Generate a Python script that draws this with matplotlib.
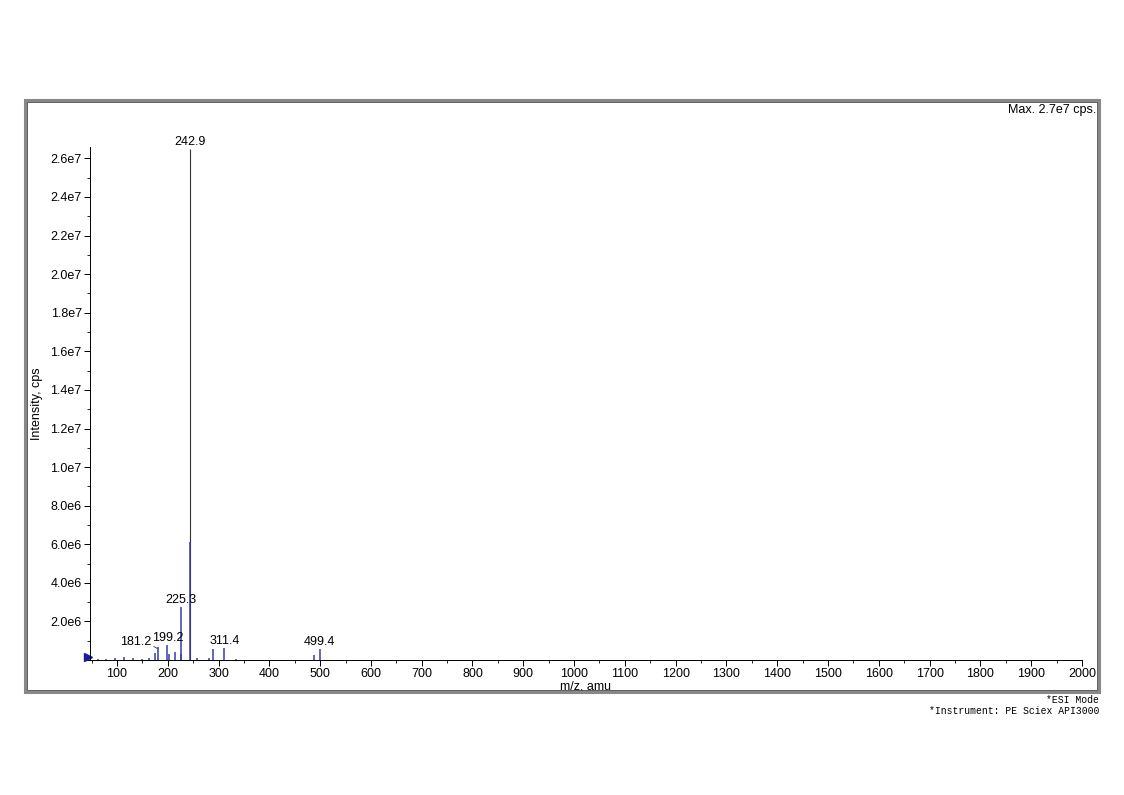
import matplotlib.pyplot as plt
from matplotlib.patches import Rectangle
from matplotlib.ticker import MultipleLocator, FuncFormatter

plt.rcParams['font.family'] = ['Liberation Sans', 'DejaVu Sans']

# peak list (m/z, intensity in cps)
mz = [62.0, 78.0, 96.0, 114.0, 131.0, 150.0, 163.0, 175.0, 181.2, 199.2, 202.0,
      215.0, 225.3, 227.0, 242.9, 244.5, 258.0, 281.0, 290.0, 311.4, 335.0,
      488.0, 499.4]
intensity = [0.05e6, 0.07e6, 0.08e6, 0.15e6, 0.08e6, 0.06e6, 0.1e6, 0.35e6, 0.65e6,
             0.76e6, 0.3e6, 0.41e6, 2.73e6, 0.3e6, 2.65e7, 6.1e6, 0.08e6, 0.1e6,
             0.55e6, 0.64e6, 0.06e6, 0.25e6, 0.59e6]
labelled = [181.2, 199.2, 225.3, 242.9, 311.4, 499.4]
base_peak = 242.9

fig = plt.figure(figsize=(11.24, 7.95), dpi=100)
ax = fig.add_axes([0.0801, 0.1698, 0.8825, 0.6455])

# outer frame around the plot
fig.patches.append(Rectangle((0.0222, 0.129), 0.9555, 0.745, transform=fig.transFigure,
                             fill=False, edgecolor='#888888', linewidth=2.2))
fig.patches.append(Rectangle((0.0240, 0.1315), 0.9520, 0.7400, transform=fig.transFigure,
                             fill=False, edgecolor='#444444', linewidth=0.6))

blue = '#3b3ba8'
for m, i in zip(mz, intensity):
    col = '#333333' if m == base_peak else blue
    lw = 0.8 if m == base_peak else 1.1
    ax.vlines(m, 0, i, color=col, linewidth=lw)

for m, i in zip(mz, intensity):
    if m not in labelled:
        continue
    if m == 181.2:
        ax.annotate('181.2', xy=(m - 2, i - 0.05e6), xytext=(m - 45, i - 0.05e6),
                    ha='center', va='bottom', fontsize=9,
                    arrowprops=dict(arrowstyle='-', color='#333333', linewidth=0.6,
                                    shrinkA=0, shrinkB=0,
                                    relpos=(1.0, 0.3)))
    else:
        ax.text(m, i + 0.05e6, f'{m:.1f}', ha='center', va='bottom', fontsize=9)

# precursor marker on the left axis
ax.plot([43], [0.15e6], marker='>', color='#1a1aa0', markersize=6, clip_on=False)

ax.set_xlim(47, 2000)
ax.set_ylim(0, 2.66e7)
ax.xaxis.set_major_locator(MultipleLocator(100))
ax.xaxis.set_minor_locator(MultipleLocator(50))
ax.yaxis.set_major_locator(MultipleLocator(2e6))
ax.yaxis.set_minor_locator(MultipleLocator(1e6))
ax.set_xticks(range(100, 2001, 100))
ax.yaxis.set_major_formatter(FuncFormatter(lambda v, p: '' if v == 0 else f'{v / 10 ** 6:.1f}e6' if v < 1e7 else f'{v / 10 ** 7:.1f}e7'))
ax.tick_params(axis='both', which='major', length=4, width=0.7, labelsize=9, pad=2)
ax.tick_params(axis='both', which='minor', length=2, width=0.6)
for s in ['top', 'right']:
    ax.spines[s].set_visible(False)
for s in ['left', 'bottom']:
    ax.spines[s].set_linewidth(0.7)

ax.set_xlabel('m/z, amu', fontsize=9, labelpad=0)
ax.set_ylabel('Intensity, cps', fontsize=9)
ax.yaxis.set_label_coords(-0.047, 0.5)

fig.text(0.975, 0.862, 'Max. 2.7e7 cps.', ha='right', va='center', fontsize=9)
fig.text(0.978, 0.119, '*ESI Mode', ha='right', va='center', fontsize=7,
         family='Liberation Mono')
fig.text(0.978, 0.106, '*Instrument: PE Sciex API3000', ha='right', va='center',
         fontsize=7, family='Liberation Mono')

fig.savefig('out.png', dpi=100)
